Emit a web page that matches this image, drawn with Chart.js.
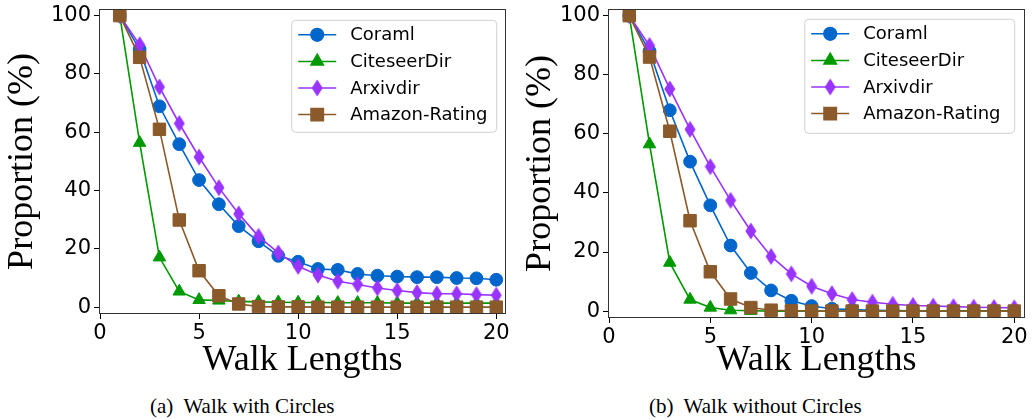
<!DOCTYPE html>
<html>
<head>
<meta charset="utf-8">
<script src="https://cdn.jsdelivr.net/npm/chart.js@4.4.1/dist/chart.umd.min.js"></script>
<style>
  body { margin: 0; background: #fff; width: 1034px; height: 419px; position: relative; overflow: hidden; }
  canvas { position: absolute; top: 0; }
  #chartA { left: 0; }
  #chartB { left: 515px; }
  .caption { position: absolute; top: 394px; font-family: "Liberation Serif", "Times New Roman", serif;
             font-size: 21px; color: #000; white-space: pre; line-height: 24px; }
</style>
</head>
<body>
<canvas id="chartA" width="515" height="390"></canvas>
<canvas id="chartB" width="519" height="390"></canvas>
<div class="caption" id="capA" style="left:150px">(a)  Walk with Circles</div>
<div class="caption" id="capB" style="left:649px">(b)  Walk without Circles</div>

<script>
// walk length on the x axis
const walkLengths = [1, 2, 3, 4, 5, 6, 7, 8, 9, 10, 11, 12, 13, 14, 15, 16, 17, 18, 19, 20];
const xTicks = [0, 5, 10, 15, 20];
const yTicks = [0, 20, 40, 60, 80, 100];
const seriesNames = ["Coraml", "CiteseerDir", "Arxivdir", "Amazon-Rating"];

// (a) walk with circles
const coramlWith   = [100, 88.4, 68.9, 55.9, 43.6, 35.3, 27.8, 22.6, 17.6, 15.6, 13.1, 12.8, 11.4, 10.8, 10.5, 10.3, 10.3, 10.0, 9.9, 9.4];
const citeseerWith = [100, 56.4, 17.1, 5.4, 2.5, 2.3, 2.0, 1.8, 1.7, 1.6, 1.6, 1.5, 1.5, 1.5, 1.4, 1.4, 1.4, 1.4, 1.4, 1.4];
const arxivWith    = [100, 90.0, 75.5, 63.0, 51.5, 41.0, 32.0, 24.3, 18.6, 14.0, 11.0, 8.9, 7.8, 6.6, 5.7, 5.0, 4.6, 4.6, 4.3, 4.1];
const amazonWith   = [100, 85.7, 61.0, 29.9, 12.5, 3.9, 1.1, 0.2, 0.1, 0.1, 0, 0, 0, 0, 0, 0, 0, 0, 0, 0];

// (b) walk without circles
const coramlWithout   = [100, 88.0, 68.0, 50.6, 35.8, 22.2, 12.9, 7.0, 3.5, 1.7, 0.8, 0.5, 0.3, 0.2, 0.1, 0.1, 0.1, 0, 0, 0];
const citeseerWithout = [100, 56.5, 16.4, 3.9, 1.2, 0.3, 0.1, 0, 0, 0, 0, 0, 0, 0, 0, 0, 0, 0, 0, 0];
const arxivWithout    = [100, 89.9, 75.2, 61.5, 48.9, 37.5, 27.1, 18.5, 12.6, 8.4, 5.9, 3.9, 3.0, 2.3, 1.9, 1.7, 1.5, 1.3, 1.2, 1.1];
const amazonWithout   = [100, 86.0, 60.9, 30.6, 13.3, 4.1, 1.2, 0.3, 0.1, 0, 0, 0, 0, 0, 0, 0, 0, 0, 0, 0];

Chart.defaults.font.family = "'DejaVu Sans', sans-serif";
Chart.defaults.color = "#000";

// thin diamond marker (matplotlib 'd')
function diamondMarker(color) {
    const c = document.createElement("canvas");
    c.width = 12;
    c.height = 18;
    const g = c.getContext("2d");
    g.fillStyle = color;
    g.beginPath();
    g.moveTo(6, 0.5);
    g.lineTo(11.5, 9);
    g.lineTo(6, 17.5);
    g.lineTo(0.5, 9);
    g.closePath();
    g.fill();
    return c;
}

const styles = [
    { color: "#0066cc", pointStyle: "circle", radius: 6.4, order: 4 },
    { color: "#009900", pointStyle: "triangle", radius: 7.2, order: 3 },
    { color: "#9933ff", pointStyle: diamondMarker("#9933ff"), radius: 8, order: 2 },
    { color: "#8b5a2b", pointStyle: "rect", radius: 8.8, order: 1 }
];

// frame around the plot area
const framePlugin = {
    id: "frame",
    afterDatasetsDraw(chart) {
        const a = chart.chartArea;
        const ctx = chart.ctx;
        ctx.save();
        ctx.strokeStyle = "#333";
        ctx.lineWidth = 1;
        ctx.strokeRect(Math.round(a.left) - 0.5, Math.round(a.top) - 0.5,
                       Math.round(a.right - a.left) + 1, Math.round(a.bottom - a.top) + 1);
        ctx.restore();
    }
};

// boxed legend in the upper right corner of the plot
const boxLegendPlugin = {
    id: "boxLegend",
    afterDraw(chart, args, opts) {
        const a = chart.chartArea;
        const ctx = chart.ctx;
        const x = a.right - opts.right - opts.width;
        const y = a.top + opts.top;
        ctx.save();
        ctx.beginPath();
        ctx.roundRect(x + 0.5, y + 0.5, opts.width, opts.height, 4);
        ctx.fillStyle = "rgba(255,255,255,0.8)";
        ctx.fill();
        ctx.strokeStyle = "#d0d0d0";
        ctx.lineWidth = 1;
        ctx.stroke();

        chart.data.datasets.forEach((ds, i) => {
            const ry = y + 15 + i * 26.6;
            ctx.strokeStyle = ds.borderColor;
            ctx.lineWidth = 1.5;
            ctx.beginPath();
            ctx.moveTo(x + 7, ry);
            ctx.lineTo(x + 45, ry);
            ctx.stroke();
            ctx.fillStyle = ds.pointBackgroundColor;
            ctx.strokeStyle = ds.pointBorderColor;
            Chart.helpers.drawPoint(ctx, {
                pointStyle: ds.pointStyle, radius: ds.pointRadius, rotation: 0, borderWidth: 1
            }, x + 26, ry);
            ctx.fillStyle = "#000";
            ctx.font = "18px 'DejaVu Sans'";
            ctx.textBaseline = "middle";
            ctx.textAlign = "left";
            ctx.fillText(ds.label, x + 59, ry + 1);
        });
        ctx.restore();
    }
};

function buildDatasets(seriesList) {
    return seriesList.map((values, i) => ({
        label: seriesNames[i],
        data: walkLengths.map((w, k) => ({ x: w, y: values[k] })),
        borderColor: styles[i].color,
        backgroundColor: styles[i].color,
        pointBackgroundColor: styles[i].color,
        pointBorderColor: styles[i].color,
        pointStyle: styles[i].pointStyle,
        pointRadius: styles[i].radius,
        pointBorderWidth: 1,
        borderWidth: 1.6,
        tension: 0,
        order: styles[i].order
    }));
}

// the scales should not push the plot area around: geometry is fixed below
function noEdgePadding(s) {
    s.paddingTop = 0;
    s.paddingBottom = 0;
    s.paddingLeft = 0;
    s.paddingRight = 0;
}

function makeChart(id, seriesList, g) {
    return new Chart(document.getElementById(id), {
        type: "line",
        data: { datasets: buildDatasets(seriesList) },
        plugins: [framePlugin, boxLegendPlugin],
        options: {
            responsive: false,
            animation: false,
            devicePixelRatio: 1,
            layout: { padding: { left: 0, top: g.top, right: g.right, bottom: 0 } },
            plugins: {
                legend: { display: false },
                tooltip: { enabled: false },
                boxLegend: g.legend
            },
            scales: {
                x: {
                    type: "linear",
                    min: 0,
                    max: g.xMax,
                    afterBuildTicks: s => { s.ticks = xTicks.map(v => ({ value: v })); },
                    afterFit: s => { s.height = g.xHeight; noEdgePadding(s); },
                    grid: { drawOnChartArea: false, tickLength: 6, color: "#000", tickWidth: 1 },
                    border: { display: false },
                    ticks: { font: { size: 21 }, padding: 2, maxRotation: 0, color: "#000" },
                    title: {
                        display: true, text: "Walk Lengths", color: "#000",
                        font: { family: "'Liberation Serif', serif", size: 36 },
                        padding: { top: 0, bottom: 8 }
                    }
                },
                y: {
                    min: -2,
                    max: 102,
                    afterBuildTicks: s => { s.ticks = yTicks.map(v => ({ value: v })); },
                    afterFit: s => { s.width = g.yWidth; noEdgePadding(s); },
                    grid: { drawOnChartArea: false, tickLength: 6, color: "#000", tickWidth: 1 },
                    border: { display: false },
                    ticks: { font: { size: 21 }, padding: 3, color: "#000" },
                    title: {
                        display: true, text: "Proportion (%)", color: "#000",
                        font: { family: "'Liberation Serif', serif", size: 36 },
                        padding: { top: g.titlePad, bottom: 0 }
                    }
                }
            }
        }
    });
}

makeChart("chartA", [coramlWith, citeseerWith, arxivWith, amazonWith], {
    top: 8, right: 8, yWidth: 100, xHeight: 77, xMax: 20.45, titlePad: 1,
    legend: { right: 9, top: 10, width: 205, height: 112 }
});

makeChart("chartB", [coramlWithout, citeseerWithout, arxivWithout, amazonWithout], {
    top: 7, right: 7, yWidth: 94, xHeight: 73, xMax: 20.49, titlePad: 4,
    legend: { right: 10, top: 9, width: 210, height: 114 }
});
</script>
</body>
</html>
